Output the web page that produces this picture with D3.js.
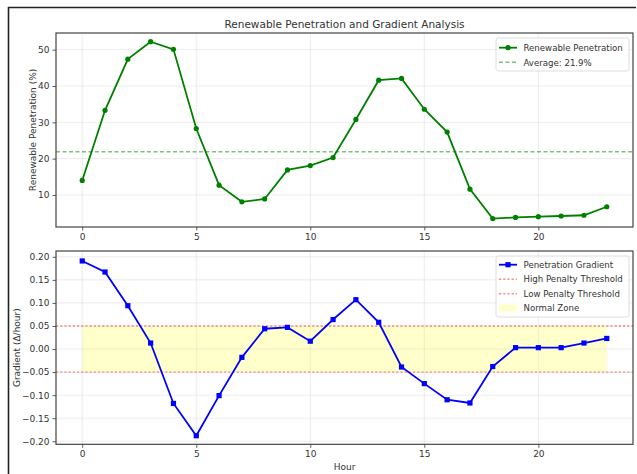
<!DOCTYPE html>
<html>
<head>
<meta charset="utf-8">
<script src="https://cdn.jsdelivr.net/npm/d3@7"></script>
<style>
  body { margin: 0; background: #fff; }
  svg text { font-family: "DejaVu Sans", sans-serif; fill: #333; }
</style>
</head>
<body>
<div id="chart"></div>
<script>
let hours = d3.range(0, 24);
let penetration = [14.0, 33.3, 47.4, 52.2, 50.1, 28.3, 12.7, 8.1, 8.9, 16.9, 18.1, 20.3,
                   30.8, 41.6, 42.1, 33.6, 27.3, 11.6, 3.5, 3.8, 4.0, 4.2, 4.4, 6.75];
let gradient = [0.191, 0.167, 0.094, 0.013, -0.118, -0.188, -0.101, -0.018, 0.044, 0.047, 0.017, 0.064,
                0.107, 0.058, -0.039, -0.075, -0.110, -0.117, -0.038, 0.003, 0.003, 0.003, 0.013, 0.023];
let averagePenetration = 21.9;
let highThreshold = 0.05;
let lowThreshold = -0.05;
let xTicks = [0, 5, 10, 15, 20];
let topYTicks = [10, 20, 30, 40, 50];
let bottomYTicks = [-0.20, -0.15, -0.10, -0.05, 0.00, 0.05, 0.10, 0.15, 0.20];

let width = 637, height = 474;
let svg = d3.select("#chart").append("svg")
  .attr("width", width).attr("height", height);

// screenshot frame
svg.append("path").attr("d", "M8.5," + height + " L8.5,7.5 L636,7.5")
  .attr("fill", "none").attr("stroke", "#222").attr("stroke-width", 1.6);

let left = 56, right = 633;
let xScale = d3.scaleLinear().domain([-1.15, 24.15]).range([left, right]);

function drawPanel(top, bottom, yScale, yTicks, yFormat) {
  let g = svg.append("g");
  // grid
  g.selectAll(".gx").data(xTicks).enter().append("line")
    .attr("x1", d => xScale(d)).attr("x2", d => xScale(d))
    .attr("y1", top).attr("y2", bottom)
    .attr("stroke", "#b0b0b0").attr("stroke-opacity", 0.3).attr("stroke-width", 0.8);
  g.selectAll(".gy").data(yTicks).enter().append("line")
    .attr("x1", left).attr("x2", right)
    .attr("y1", d => yScale(d)).attr("y2", d => yScale(d))
    .attr("stroke", "#b0b0b0").attr("stroke-opacity", 0.3).attr("stroke-width", 0.8);

  let xAxis = g.append("g").attr("transform", "translate(0," + bottom + ")")
    .call(d3.axisBottom(xScale).tickValues(xTicks).tickSize(3.5).tickPadding(3));
  let yAxis = g.append("g").attr("transform", "translate(" + left + ",0)")
    .call(d3.axisLeft(yScale).tickValues(yTicks).tickFormat(yFormat).tickSize(3.5).tickPadding(3));
  [xAxis, yAxis].forEach(a => {
    a.select(".domain").remove();
    a.selectAll("line").attr("stroke", "#333").attr("stroke-width", 0.8);
    a.selectAll("text").attr("font-size", 9).style("fill", "#333");
  });
  return g;
}

function drawFrame(top, bottom) {
  svg.append("rect").attr("x", left).attr("y", top)
    .attr("width", right - left).attr("height", bottom - top)
    .attr("fill", "none").attr("stroke", "#444").attr("stroke-width", 1.2);
}

// ---------- top panel ----------
let topTop = 33, topBottom = 227;
let yTop = d3.scaleLinear().domain([1.17, 54.6]).range([topBottom, topTop]);
drawPanel(topTop, topBottom, yTop, topYTicks, d3.format("d"));

svg.append("line")
  .attr("x1", left).attr("x2", right)
  .attr("y1", yTop(averagePenetration)).attr("y2", yTop(averagePenetration))
  .attr("stroke", "green").attr("stroke-opacity", 0.5)
  .attr("stroke-width", 1.4).attr("stroke-dasharray", "4,2.5");

let topLine = d3.line().x((d, i) => xScale(hours[i])).y(d => yTop(d));
svg.append("path").attr("d", topLine(penetration))
  .attr("fill", "none").attr("stroke", "green").attr("stroke-width", 1.8);
svg.selectAll(".pdot").data(penetration).enter().append("circle")
  .attr("cx", (d, i) => xScale(hours[i])).attr("cy", d => yTop(d))
  .attr("r", 2.6).attr("fill", "green");

drawFrame(topTop, topBottom);

svg.append("text").attr("x", (left + right) / 2).attr("y", 28)
  .attr("text-anchor", "middle").attr("font-size", 10.5).text("Renewable Penetration and Gradient Analysis");
svg.append("text").attr("transform", "translate(35.5," + (topTop + topBottom) / 2 + ") rotate(-90)")
  .attr("text-anchor", "middle").attr("font-size", 9).text("Renewable Penetration (%)");

// top legend
let lg1 = svg.append("g").attr("transform", "translate(496,38)");
lg1.append("rect").attr("width", 133).attr("height", 33).attr("rx", 2)
  .attr("fill", "#fff").attr("fill-opacity", 0.8).attr("stroke", "#d6d6d6").attr("stroke-width", 0.8);
lg1.append("line").attr("x1", 3).attr("x2", 21).attr("y1", 9.7).attr("y2", 9.7)
  .attr("stroke", "green").attr("stroke-width", 1.8);
lg1.append("circle").attr("cx", 12).attr("cy", 9.7).attr("r", 2.6).attr("fill", "green");
lg1.append("line").attr("x1", 3).attr("x2", 21).attr("y1", 24.3).attr("y2", 24.3)
  .attr("stroke", "green").attr("stroke-opacity", 0.5).attr("stroke-width", 1.4).attr("stroke-dasharray", "4,2.5");
lg1.append("text").attr("x", 27.5).attr("y", 13).attr("font-size", 8.6).text("Renewable Penetration");
lg1.append("text").attr("x", 27.5).attr("y", 27.6).attr("font-size", 8.6).text("Average: " + averagePenetration + "%");

// ---------- bottom panel ----------
let botTop = 251, botBottom = 444.3;
let yBot = d3.scaleLinear().domain([-0.2066, 0.2126]).range([botBottom, botTop]);
drawPanel(botTop, botBottom, yBot, bottomYTicks, d3.format(".2f"));

svg.append("rect")
  .attr("x", xScale(hours[0])).attr("width", xScale(hours[hours.length - 1]) - xScale(hours[0]))
  .attr("y", yBot(highThreshold)).attr("height", yBot(lowThreshold) - yBot(highThreshold))
  .attr("fill", "yellow").attr("fill-opacity", 0.2);

[highThreshold, lowThreshold].forEach(t => {
  svg.append("line").attr("x1", left).attr("x2", right)
    .attr("y1", yBot(t)).attr("y2", yBot(t))
    .attr("stroke", "red").attr("stroke-opacity", 0.45)
    .attr("stroke-width", 1.4).attr("stroke-dasharray", "2.2,2");
});

let botLine = d3.line().x((d, i) => xScale(hours[i])).y(d => yBot(d));
svg.append("path").attr("d", botLine(gradient))
  .attr("fill", "none").attr("stroke", "blue").attr("stroke-width", 1.8);
svg.selectAll(".gsq").data(gradient).enter().append("rect")
  .attr("x", (d, i) => xScale(hours[i]) - 2.6).attr("y", d => yBot(d) - 2.6)
  .attr("width", 5.2).attr("height", 5.2).attr("fill", "blue");

drawFrame(botTop, botBottom);

svg.append("text").attr("transform", "translate(19.5," + (botTop + botBottom) / 2 + ") rotate(-90)")
  .attr("text-anchor", "middle").attr("font-size", 9).text("Gradient (Δ/hour)");
svg.append("text").attr("x", (left + right) / 2).attr("y", 470)
  .attr("text-anchor", "middle").attr("font-size", 9).text("Hour");

// bottom legend
let lg2 = svg.append("g").attr("transform", "translate(496,256)");
lg2.append("rect").attr("width", 133).attr("height", 61).attr("rx", 2)
  .attr("fill", "#fff").attr("fill-opacity", 0.8).attr("stroke", "#d6d6d6").attr("stroke-width", 0.8);
lg2.append("line").attr("x1", 3).attr("x2", 21).attr("y1", 8.7).attr("y2", 8.7)
  .attr("stroke", "blue").attr("stroke-width", 1.8);
lg2.append("rect").attr("x", 9.4).attr("y", 6.1).attr("width", 5.2).attr("height", 5.2).attr("fill", "blue");
[23.3, 37.7].forEach(yy => {
  lg2.append("line").attr("x1", 3).attr("x2", 21).attr("y1", yy).attr("y2", yy)
    .attr("stroke", "red").attr("stroke-opacity", 0.45).attr("stroke-width", 1.4).attr("stroke-dasharray", "2.2,2");
});
lg2.append("rect").attr("x", 3).attr("y", 48.5).attr("width", 18).attr("height", 7)
  .attr("fill", "yellow").attr("fill-opacity", 0.2);
let labels2 = ["Penetration Gradient", "High Penalty Threshold", "Low Penalty Threshold", "Normal Zone"];
lg2.selectAll(".lt").data(labels2).enter().append("text")
  .attr("x", 27.5).attr("y", (d, i) => 12 + i * 14.4).attr("font-size", 8.6).text(d => d);
</script>
</body>
</html>
